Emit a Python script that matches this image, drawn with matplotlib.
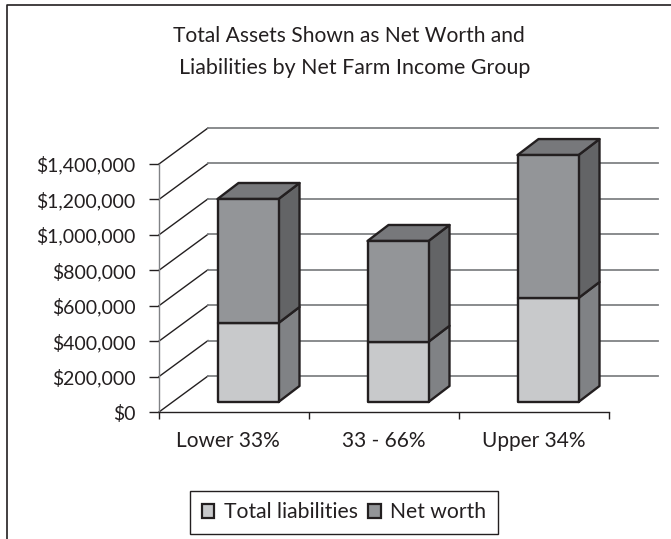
import matplotlib
matplotlib.use("Agg")
import matplotlib.pyplot as plt
from matplotlib.lines import Line2D
from matplotlib.patches import Patch, Polygon
from matplotlib.transforms import ScaledTranslation

plt.rcParams["font.family"] = ["Lato", "DejaVu Sans"]

# Values
CATEGORIES = ["Lower 33%", "33 - 66%", "Upper 34%"]
TOTAL_LIABILITIES = [446000, 340000, 587000]
NET_WORTH = [700000, 569000, 807000]
Y_TICKS = [0, 200000, 400000, 600000, 800000, 1000000, 1200000, 1400000]
Y_LABELS = ["$0", "$200,000", "$400,000", "$600,000", "$800,000",
            "$1,000,000", "$1,200,000", "$1,400,000"]

W, H = 671, 539
AX_LEFT, AX_RIGHT, AX_TOP, AX_BOTTOM = 159, 609, 164, 412

# Fake 3D depth, in data units: full wall depth is 49 px across, 36 px up
X_PER_PX = 3 / (AX_RIGHT - AX_LEFT)
Y_PER_PX = 1400000 / (AX_BOTTOM - AX_TOP)
WALL_DX, WALL_DY = 49 * X_PER_PX, 36 * Y_PER_PX
BAR_DX, BAR_DY = 21 * X_PER_PX, 16 * Y_PER_PX
FLOOR_DX, FLOOR_DY = 14 * X_PER_PX, 10 * Y_PER_PX
BAR_WIDTH = 61 * X_PER_PX

EDGE = "#231f20"
GRID = "#808285"


def draw_box(ax, x0, y0, y1, front, side, top=None):
    """Draw one bar segment with its side face and optional top face."""
    x1 = x0 + BAR_WIDTH
    style = dict(edgecolor=EDGE, linewidth=1.7, joinstyle="round", clip_on=False, zorder=3)
    ax.add_patch(Polygon([(x1, y0), (x1 + BAR_DX, y0 + BAR_DY),
                          (x1 + BAR_DX, y1 + BAR_DY), (x1, y1)], facecolor=side, **style))
    if top is not None:
        ax.add_patch(Polygon([(x0, y1), (x0 + BAR_DX, y1 + BAR_DY),
                              (x1 + BAR_DX, y1 + BAR_DY), (x1, y1)], facecolor=top, **style))
    ax.add_patch(Polygon([(x0, y0), (x1, y0), (x1, y1), (x0, y1)], facecolor=front, **style))


fig = plt.figure(figsize=(W / 100, H / 100), dpi=100)
ax = fig.add_axes([AX_LEFT / W, 1 - AX_BOTTOM / H,
                   (AX_RIGHT - AX_LEFT) / W, (AX_BOTTOM - AX_TOP) / H])
ax.set_xlim(0, 3)
ax.set_ylim(0, 1400000)
ax.patch.set_alpha(0)

# Wall lines, one diagonal on the left wall and one along the back for each tick
for tick in Y_TICKS:
    ax.plot([0, WALL_DX], [tick, tick + WALL_DY], color=EDGE, lw=1, clip_on=False, zorder=1)
    ax.plot([WALL_DX, 3 + WALL_DX], [tick + WALL_DY, tick + WALL_DY],
            color=GRID, lw=1.3, clip_on=False, zorder=1)

for i in range(len(CATEGORIES)):
    x0 = i + 0.5 - BAR_WIDTH / 2 + FLOOR_DX
    base = FLOOR_DY
    low = base + TOTAL_LIABILITIES[i]
    high = low + NET_WORTH[i]
    draw_box(ax, x0, base, low, "#c8c9cb", "#808285")
    draw_box(ax, x0, low, high, "#939598", "#636466", "#77787b")

for side in ["top", "right"]:
    ax.spines[side].set_visible(False)
for side in ["left", "bottom"]:
    ax.spines[side].set_linewidth(1)
    ax.spines[side].set_zorder(2)
ax.spines["left"].set_color(GRID)
ax.spines["bottom"].set_color(EDGE)

ax.set_yticks(Y_TICKS)
ax.set_yticklabels(Y_LABELS)
ax.set_xticks([0, 1, 2, 3])
ax.set_xticklabels([])
ax.set_xticks([0.5, 1.5, 2.5], minor=True)
ax.set_xticklabels(CATEGORIES, minor=True)
ax.tick_params(axis="x", which="major", length=5, width=1, color=EDGE)
ax.tick_params(axis="x", which="minor", length=0, labelsize=15, pad=14, labelcolor=EDGE)
ax.tick_params(axis="y", length=7, width=1, color=EDGE, labelsize=14, pad=10, labelcolor=EDGE)

# First category label sits a little left of its slot in the original
first = ax.get_xticklabels(minor=True)[0]
first.set_transform(first.get_transform() + ScaledTranslation(-6.5 / 100, 0, fig.dpi_scale_trans))

fig.text(349 / W, 1 - 36 / H, "Total Assets Shown as Net Worth and",
         ha="center", va="center", fontsize=15.1, color=EDGE)
fig.text(354.5 / W, 1 - 68 / H, "Liabilities by Net Farm Income Group",
         ha="center", va="center", fontsize=15.4, color=EDGE)

# Page frame, only top and left sides are visible
fig.add_artist(Line2D([1, 7 / W, 7 / W], [1 - 5 / H, 1 - 5 / H, 0], color="#231f20", lw=1.2))

handles = [Patch(facecolor="#c8c9cb", edgecolor=EDGE, linewidth=1.6),
           Patch(facecolor="#939598", edgecolor=EDGE, linewidth=1.6)]
legend = fig.legend(handles, ["Total liabilities", "Net worth"], ncol=2,
                    loc="center", bbox_to_anchor=(344 / W, 1 - 512.5 / H),
                    fontsize=15.2, frameon=True, fancybox=False, edgecolor=EDGE,
                    framealpha=1, handlelength=0.6, handleheight=0.6,
                    handletextpad=0.45, columnspacing=0.47, borderpad=0.55,
                    borderaxespad=0, labelcolor=EDGE)
legend.get_frame().set_linewidth(1)

fig.savefig("out.png", dpi=100)
